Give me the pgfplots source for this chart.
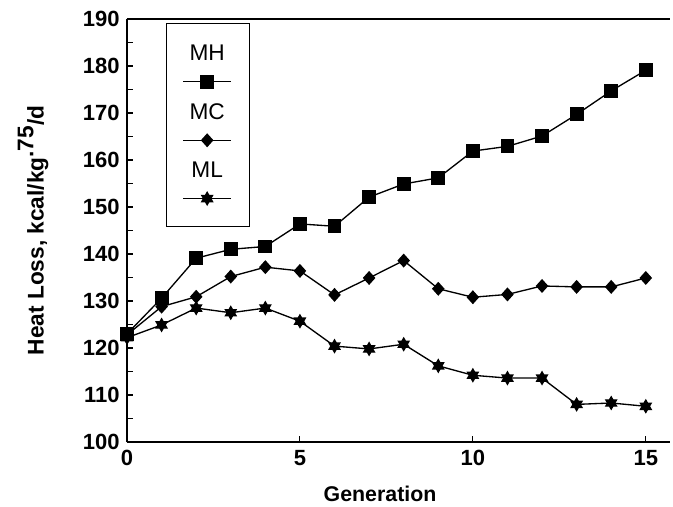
\documentclass[border=0pt]{standalone}
\usepackage{fontspec}
\setmainfont{Liberation Sans}
\usepackage{pgfplots}
\usepackage{pgfplotstable}
\pgfplotsset{compat=1.18}

% filled six-pointed star and a squarer diamond
\pgfdeclareplotmark{hexstar}{%
  \pgfpathmoveto{\pgfqpointpolar{90}{\pgfplotmarksize}}%
  \pgfpathlineto{\pgfqpointpolar{210}{\pgfplotmarksize}}%
  \pgfpathlineto{\pgfqpointpolar{330}{\pgfplotmarksize}}%
  \pgfpathclose
  \pgfpathmoveto{\pgfqpointpolar{270}{\pgfplotmarksize}}%
  \pgfpathlineto{\pgfqpointpolar{30}{\pgfplotmarksize}}%
  \pgfpathlineto{\pgfqpointpolar{150}{\pgfplotmarksize}}%
  \pgfpathclose
  \pgfusepathqfillstroke}
\pgfdeclareplotmark{rdiamond}{%
  \pgfpathmoveto{\pgfqpoint{0pt}{\pgfplotmarksize}}%
  \pgfpathlineto{\pgfqpoint{0.9\pgfplotmarksize}{0pt}}%
  \pgfpathlineto{\pgfqpoint{0pt}{-\pgfplotmarksize}}%
  \pgfpathlineto{\pgfqpoint{-0.9\pgfplotmarksize}{0pt}}%
  \pgfpathclose
  \pgfusepathqfillstroke}

% legend entry: name above the line sample
\newcommand{\legimg}[1]{%
  \node[font=\fontsize{17}{20}\selectfont, inner sep=0pt, text=black] at (18pt,21pt) {#1};
  \draw[mark repeat=2, mark phase=2] plot coordinates {(0pt,0pt) (18pt,0pt) (36pt,0pt)};}

\pgfplotstableread{
gen MH MC ML
0 123.0 122.8 122.2
1 130.6 128.8 124.9
2 139.1 130.9 128.5
3 141.0 135.2 127.5
4 141.6 137.2 128.5
5 146.4 136.4 125.7
6 145.9 131.3 120.4
7 152.1 134.9 119.8
8 154.9 138.6 120.8
9 156.2 132.6 116.2
10 161.9 130.8 114.2
11 162.9 131.4 113.6
12 165.1 133.2 113.6
13 169.7 133.0 108.0
14 174.7 133.0 108.3
15 179.1 134.9 107.6
}\heatdata

\begin{document}
\begin{tikzpicture}
\begin{axis}[
    scale only axis,
    width=407.25pt, height=317.25pt,
    xmin=0, xmax=15.7, ymin=100, ymax=190,
    axis x line=bottom, axis y line=left,
    axis line style={-, line width=1.2pt},
    xtick={0,5,10,15},
    ytick={100,110,...,190},
    minor y tick num=1,
    tick align=inside,
    major tick length=4.5pt, minor tick length=4.5pt,
    tick style={line width=0.8pt, black},
    ticklabel style={font=\bfseries\fontsize{16.5}{19}\selectfont},
    yticklabel style={xshift=-2pt},
    xticklabel style={yshift=-2.5pt},
    /pgf/number format/assume math mode=true,
    xlabel={Generation},
    xlabel style={font=\bfseries\fontsize{16}{19}\selectfont, at={(rel axis cs:0.466,-0.122)}, anchor=center},
    ylabel={Heat Loss, kcal/kg\raisebox{0.45em}{.75}/d},
    ylabel style={font=\bfseries\fontsize{17}{20}\selectfont, at={(rel axis cs:-0.173,0.5)}, anchor=center},
    clip=false,
    legend style={at={(rel axis cs:0,1)}, anchor=north west,
        xshift=29.25pt, yshift=-3pt,
        draw=black, line width=0.75pt,
        inner xsep=12pt, inner ysep=16pt, row sep=11.6pt,
        nodes={inner sep=0pt}},
]
\addplot[black, line width=1pt, mark=square*, mark size=4.7pt,
    legend image code/.code={\legimg{MH}}] table[x=gen, y=MH] {\heatdata};
\addlegendentry{}
\addplot[black, line width=1pt, mark=rdiamond, mark size=4.5pt,
    legend image code/.code={\legimg{MC}}] table[x=gen, y=MC] {\heatdata};
\addlegendentry{}
\addplot[black, line width=1pt, mark=hexstar, mark size=4.6pt,
    legend image code/.code={\legimg{ML}}] table[x=gen, y=ML] {\heatdata};
\addlegendentry{}
\draw[line width=1pt] (rel axis cs:0,1) -- (rel axis cs:1,1);
\coordinate (sw) at (rel axis cs:0,0);
\coordinate (ne) at (rel axis cs:1,1);
\end{axis}
\pgfresetboundingbox
\path[use as bounding box] ([shift={(-95.25pt,-48pt)}]sw) rectangle ([shift={(2.25pt,14.25pt)}]ne);
\end{tikzpicture}
\end{document}
